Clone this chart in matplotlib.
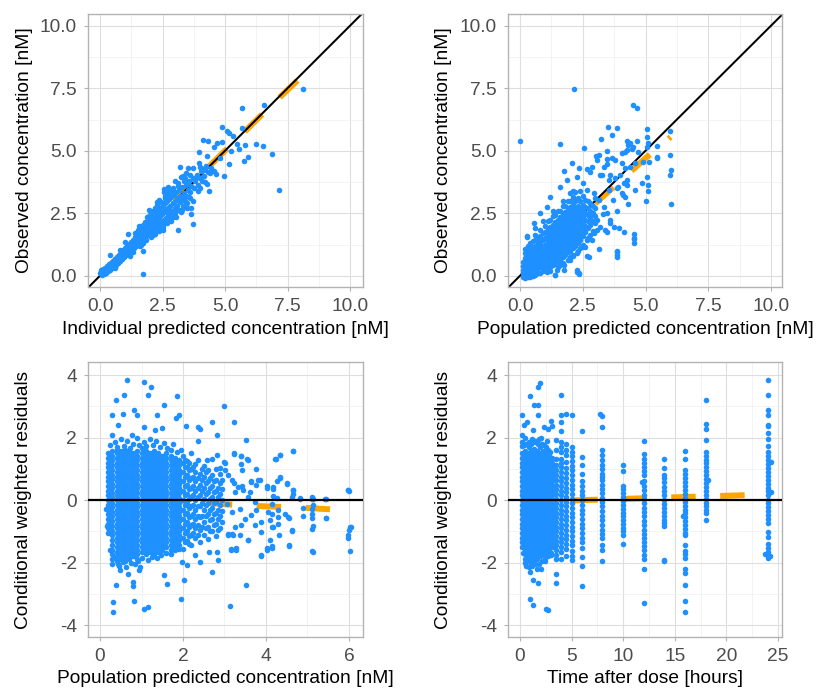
import matplotlib
matplotlib.use('Agg')
import matplotlib.pyplot as plt
from matplotlib.ticker import MultipleLocator, FormatStrFormatter

BLUE = '#1E90FF'
ORANGE = '#FFA500'

# ---------------- top left: observed vs individual predicted ----------------
ind_outliers = [
    (5.68, 6.73), (6.56, 6.85), (8.13, 7.49), (4.87, 5.96), (5.68, 5.93), (5.08, 5.80),
    (5.15, 5.72), (5.33, 5.59), (4.13, 5.45), (4.33, 5.40), (4.67, 5.33), (4.88, 5.37),
    (5.48, 5.29), (5.81, 5.25), (6.24, 5.27), (6.53, 5.20), (4.57, 5.16), (5.56, 5.07),
    (5.25, 5.00), (5.92, 4.75), (5.76, 4.60), (6.87, 4.87), (7.16, 3.45), (3.95, 4.96),
    (4.27, 4.79), (4.80, 4.72), (5.17, 4.49), (4.96, 4.00), (4.65, 4.07), (4.40, 4.12),
    (4.55, 4.20), (4.29, 3.68), (4.00, 3.53), (4.35, 3.40), (3.65, 2.73), (3.71, 2.07),
    (3.11, 1.83), (3.65, 2.49), (3.49, 2.92), (3.20, 4.36), (3.53, 4.33), (3.97, 4.53),
    (4.24, 4.41), (4.17, 4.25), (3.93, 3.96), (4.08, 3.80), (2.67, 3.43), (2.57, 3.49),
    (1.96, 2.65), (1.71, 1.00), (1.71, 0.07), (1.11, 1.69), (0.40, 0.83), (2.20, 1.69),
    (2.53, 1.83), (2.93, 2.36), (3.27, 2.63), (3.37, 3.03),
]
ind_band = [
    (0.00, 0.12), (0.03, 0.22), (0.06, 0.05), (0.08, 0.15), (0.12, 0.28), (0.14, 0.08),
    (0.17, 0.18), (0.20, 0.32), (0.22, 0.12), (0.25, 0.24), (0.28, 0.40), (0.30, 0.18),
    (0.33, 0.30), (0.36, 0.46), (0.38, 0.25), (0.41, 0.36), (0.44, 0.52), (0.46, 0.30),
    (0.48, 0.42), (0.52, 0.60), (0.54, 0.38), (0.56, 0.50), (0.60, 0.68), (0.62, 0.45),
    (0.64, 0.57), (0.68, 0.76), (0.70, 0.52), (0.72, 0.64), (0.76, 0.84), (0.78, 0.60),
    (0.80, 0.72), (0.84, 0.92), (0.86, 0.68), (0.88, 0.80), (0.92, 1.02), (0.94, 0.75),
    (0.96, 0.88), (1.00, 1.10), (1.02, 0.82), (1.04, 0.96), (1.08, 1.18), (1.10, 0.90),
    (1.12, 1.04), (1.16, 1.28), (1.18, 0.98), (1.20, 1.12), (1.24, 1.36), (1.26, 1.05),
    (1.28, 1.20), (1.32, 1.45), (1.34, 1.12), (1.36, 1.30), (1.40, 1.55), (1.42, 1.20),
    (1.44, 1.38), (1.48, 1.62), (1.50, 1.28), (1.52, 1.46), (1.56, 1.72), (1.58, 1.35),
    (1.60, 1.55), (1.64, 1.80), (1.66, 1.42), (1.68, 1.62), (1.72, 1.90), (1.74, 1.50),
    (1.76, 1.70), (1.80, 1.98), (1.82, 1.58), (1.84, 1.78), (1.88, 2.08), (1.90, 1.65),
    (1.92, 1.86), (1.96, 2.16), (1.98, 1.72), (2.00, 1.95), (2.04, 2.26), (2.06, 1.80),
    (2.08, 2.02), (2.12, 2.35), (2.14, 1.88), (2.16, 2.10), (2.20, 2.45), (2.22, 1.95),
    (2.24, 2.20), (2.28, 2.55), (2.30, 2.02), (2.32, 2.28), (2.36, 2.62), (2.38, 2.10),
    (2.40, 2.38), (2.44, 2.72), (2.46, 2.18), (2.48, 2.46), (2.52, 2.80), (2.54, 2.25),
    (2.56, 2.55), (2.60, 2.90), (2.62, 2.32), (2.64, 2.62), (2.68, 2.98), (2.70, 2.42),
    (2.72, 2.70), (2.76, 3.06), (2.78, 2.50), (2.80, 2.80), (2.85, 3.15), (2.88, 2.60),
    (2.90, 2.90), (2.95, 3.25), (2.98, 2.70), (3.00, 3.00), (3.05, 3.35), (3.08, 2.80),
    (3.10, 3.10), (3.15, 3.45), (3.20, 2.95), (3.22, 3.20), (3.28, 3.55), (3.32, 3.05),
    (3.35, 3.30), (3.42, 3.65), (3.45, 3.20), (3.50, 3.45), (3.55, 3.80), (3.60, 3.35),
    (3.65, 3.60), (3.70, 3.92), (3.75, 3.50), (3.80, 3.78), (3.88, 4.05), (3.92, 3.65),
    (4.00, 3.90), (4.05, 4.20), (4.15, 4.00), (4.20, 4.30), (4.30, 4.15), (4.45, 4.30),
    (1.00, 1.35), (1.20, 0.80), (1.50, 1.85), (1.70, 1.30), (1.90, 2.30), (2.10, 1.65),
    (2.30, 2.75), (2.50, 2.05), (2.60, 3.10), (2.80, 2.30), (2.90, 3.35), (3.00, 2.50),
    (3.10, 3.60), (3.30, 2.80), (3.40, 3.90), (3.60, 3.10), (2.20, 2.70), (2.40, 1.95),
    (1.40, 1.70), (1.60, 1.20), (0.80, 1.05), (0.60, 0.30), (3.70, 4.30), (3.90, 3.40),
    (4.00, 4.35), (4.20, 3.75), (3.30, 4.00), (2.75, 3.35), (2.00, 2.45), (1.30, 0.95),
]
# wider spread of the band between 1.5 and 3.8 nM
ind_spread = [
    (1.55, 2.00), (1.62, 1.25), (1.78, 2.15), (1.85, 1.45), (1.95, 2.40), (2.02, 1.55),
    (2.10, 2.55), (2.18, 1.70), (2.26, 2.85), (2.34, 1.80), (2.42, 2.95), (2.50, 1.95),
    (2.58, 3.20), (2.66, 2.10), (2.74, 3.25), (2.82, 2.20), (2.92, 3.50), (3.02, 2.35),
    (3.12, 3.70), (3.24, 2.55), (3.36, 3.80), (3.48, 2.70), (3.58, 4.05), (3.72, 3.00),
    (2.35, 3.05), (2.55, 3.35), (2.70, 3.55), (2.45, 2.05), (2.65, 2.25), (2.95, 2.55),
    (3.15, 2.65), (3.40, 3.00), (3.00, 3.80), (3.25, 3.95), (2.85, 3.40), (3.55, 3.15),
    (1.70, 2.05), (1.88, 2.35), (2.05, 2.60), (2.28, 2.95), (2.62, 3.35), (3.45, 4.10),
]
ind_smooth_x = [0.22, 1.0, 2.0, 3.0, 4.0, 5.0, 6.0, 7.0, 8.1]
ind_smooth_y = [0.25, 1.02, 2.03, 3.03, 4.02, 5.0, 5.98, 6.96, 8.0]

# ---------------- top right: observed vs population predicted ----------------
pop_outliers = [
    (0.00, 5.40), (2.16, 7.49), (4.49, 6.85), (4.65, 6.73), (3.49, 5.96), (3.85, 5.93),
    (3.65, 5.63), (3.24, 5.47), (1.58, 5.27), (2.56, 5.13), (2.06, 4.52), (1.75, 4.19),
    (5.06, 5.89), (5.98, 5.79), (5.06, 5.56), (5.44, 5.20), (5.11, 5.32), (4.25, 5.40),
    (4.38, 5.32), (4.67, 5.40), (4.52, 5.16), (4.08, 4.92), (4.28, 5.03), (5.44, 4.73),
    (5.99, 4.85), (6.02, 4.23), (5.98, 4.05), (6.02, 2.89), (5.07, 3.96), (5.11, 3.63),
    (5.11, 3.40), (5.02, 2.99), (4.86, 3.72), (4.60, 3.45), (4.28, 3.65), (4.29, 2.87),
    (3.88, 2.60), (4.12, 3.23), (4.54, 1.67), (4.54, 1.47), (3.88, 1.00), (3.88, 0.85),
    (3.15, 1.09), (2.68, 0.80), (2.26, 0.16), (2.35, 0.07), (1.41, 0.05), (1.74, 0.23),
    (0.27, 1.60), (0.27, 1.09), (2.12, 0.83), (3.59, 4.03), (3.65, 4.71), (3.45, 4.49),
    (3.15, 4.83), (3.25, 4.03), (2.86, 4.36), (2.66, 4.29), (3.39, 1.83), (3.59, 2.12),
    (3.05, 1.83), (2.86, 1.45), (3.32, 2.49), (3.72, 3.03), (3.92, 3.56),
    (4.29, 5.23), (3.46, 5.00), (3.04, 4.79), (3.07, 4.63), (3.33, 4.37), (3.46, 4.67),
    (3.80, 4.65), (4.19, 4.96), (4.46, 5.09), (4.72, 4.96), (5.05, 5.16), (4.06, 4.50),
    (4.19, 4.30), (4.39, 4.37), (4.59, 4.50), (4.92, 4.56), (5.12, 4.56), (5.46, 4.76),
    (3.99, 4.03), (3.80, 3.90), (3.53, 3.83), (4.13, 3.70), (4.26, 3.83), (3.86, 3.50),
    (4.06, 3.30), (4.19, 3.16), (3.53, 3.43), (3.20, 4.03), (2.80, 4.16), (2.34, 4.30),
    (2.27, 3.96), (1.87, 3.83), (1.61, 3.56), (1.21, 3.16), (1.08, 2.76), (0.81, 2.50),
    (0.54, 2.10), (0.28, 1.56), (0.21, 1.09), (2.67, 3.43), (2.93, 3.30), (3.13, 3.03),
    (3.33, 2.76), (3.46, 2.50), (3.60, 2.23), (3.73, 1.96), (3.46, 1.76), (3.20, 1.96),
    (3.07, 2.23), (2.93, 1.70), (2.67, 1.43), (2.47, 1.16), (2.27, 0.90), (2.00, 0.63),
    (1.74, 0.43), (1.47, 0.23), (1.08, 0.16), (1.41, 0.03), (2.60, 1.16), (2.73, 0.76),
    (3.93, 1.90), (4.13, 1.76), (4.53, 1.50), (4.53, 1.30), (3.86, 0.96), (3.86, 0.76),
    (2.27, 0.23), (2.34, 0.10),
    # lower and upper edge of the dense cloud
    (1.20, 0.20), (1.50, 0.35), (1.70, 0.50), (1.90, 0.65), (2.10, 0.80), (2.30, 1.00),
    (2.50, 1.25), (2.70, 1.50), (2.90, 1.80), (3.00, 2.10), (1.60, 0.45), (2.00, 0.75),
    (2.40, 1.10), (2.80, 1.65), (0.60, 1.90), (0.90, 2.20), (1.30, 2.60), (1.70, 3.00),
    (2.10, 3.40), (2.50, 3.70),
]
pop_core_x = [0.1, 0.2, 0.3, 0.4, 0.5, 0.6, 0.7, 0.8, 0.9, 1.0, 1.1, 1.2, 1.3, 1.4,
              1.5, 1.6, 1.7, 1.8, 1.9, 2.0, 2.1, 2.2, 2.3, 2.4, 2.5, 2.6, 2.7, 2.8,
              2.9, 3.0]
pop_core_y = [
    [-0.05, 0.1, 0.25, 0.4, 0.55],
    [-0.08, 0.05, 0.2, 0.35, 0.5, 0.7, 0.9],
    [-0.05, 0.1, 0.25, 0.45, 0.6, 0.8, 1.0, 1.2],
    [-0.03, 0.15, 0.3, 0.5, 0.7, 0.85, 1.05, 1.3],
    [0.0, 0.2, 0.35, 0.55, 0.75, 0.95, 1.15, 1.4],
    [0.05, 0.25, 0.45, 0.6, 0.8, 1.0, 1.2, 1.45, 1.65],
    [0.1, 0.3, 0.5, 0.7, 0.9, 1.1, 1.3, 1.5],
    [0.12, 0.35, 0.55, 0.75, 0.95, 1.15, 1.35, 1.6, 1.85],
    [0.2, 0.4, 0.6, 0.8, 1.0, 1.2, 1.45, 1.7],
    [0.25, 0.45, 0.65, 0.85, 1.05, 1.25, 1.5, 1.75, 2.0],
    [0.3, 0.5, 0.7, 0.95, 1.15, 1.35, 1.6, 1.85, 2.2],
    [0.35, 0.6, 0.8, 1.0, 1.2, 1.45, 1.7, 1.95, 2.25],
    [0.45, 0.65, 0.9, 1.1, 1.3, 1.55, 1.8, 2.05, 2.4],
    [0.5, 0.75, 0.95, 1.2, 1.4, 1.65, 1.9, 2.15, 2.45],
    [0.6, 0.8, 1.05, 1.25, 1.5, 1.75, 2.0, 2.25, 2.6],
    [0.65, 0.9, 1.1, 1.35, 1.6, 1.85, 2.1, 2.35, 2.6],
    [0.75, 1.0, 1.2, 1.45, 1.7, 1.95, 2.2, 2.45, 2.8],
    [0.85, 1.05, 1.3, 1.55, 1.8, 2.05, 2.3, 2.55, 2.8],
    [0.95, 1.15, 1.4, 1.65, 1.9, 2.15, 2.4, 2.65, 3.0],
    [1.0, 1.25, 1.5, 1.75, 2.0, 2.25, 2.5, 2.75, 3.0, 3.3],
    [1.1, 1.35, 1.6, 1.85, 2.1, 2.35, 2.6, 2.85, 3.15],
    [1.2, 1.45, 1.7, 1.95, 2.2, 2.45, 2.7, 3.0, 3.35],
    [1.3, 1.55, 1.8, 2.05, 2.3, 2.55, 2.8, 3.1],
    [1.45, 1.7, 1.95, 2.2, 2.45, 2.7, 3.0, 3.4],
    [1.6, 1.85, 2.1, 2.35, 2.6, 2.85, 3.2],
    [1.75, 2.0, 2.25, 2.5, 2.75, 3.05],
    [1.9, 2.2, 2.45, 2.7, 3.0],
    [2.05, 2.35, 2.6, 2.9],
    [2.2, 2.5, 2.8],
    [2.4, 2.7, 3.1],
]
pop_smooth_x = [0.08, 0.5, 1.0, 1.5, 2.0, 2.5, 3.0, 3.5, 4.0, 4.5, 5.0, 5.5, 6.0]
pop_smooth_y = [0.28, 0.62, 1.05, 1.5, 1.95, 2.42, 2.9, 3.35, 3.8, 4.25, 4.7, 5.12, 5.55]

# ---------------- bottom left: CWRES vs population predicted ----------------
cw_outliers = [
    (0.66, 3.86), (1.07, 3.77), (1.22, 3.61), (1.16, 3.38), (0.39, 3.22), (0.57, 3.36),
    (1.85, 3.33), (1.55, 3.04), (3.00, 3.02), (0.81, 2.90), (0.30, 2.74), (0.55, 2.77),
    (0.88, 2.74), (1.37, 2.72), (1.90, 2.72), (1.82, 2.63), (0.44, 2.40), (1.06, 2.35),
    (1.33, 2.24), (1.49, 2.31), (2.07, 2.37), (2.37, 2.35), (2.41, 2.29), (2.70, 2.49),
    (3.23, 2.51), (2.83, 2.10), (0.76, 2.10), (0.30, 2.10), (2.35, 1.89), (3.51, 1.91),
    (4.66, 1.57), (4.34, 1.46), (4.24, 1.31), (3.23, 1.49), (3.41, 1.41), (3.55, 1.31),
    (2.69, 1.33), (2.81, 1.44), (2.57, 1.27), (3.00, 1.21), (2.89, 1.03), (3.75, 0.99),
    (3.86, 0.66), (3.64, 0.61), (4.02, 0.46), (4.26, 0.61), (4.34, 0.71), (4.50, 0.53),
    (4.18, 0.37), (4.66, 0.34), (4.65, 0.19), (4.82, 0.05), (5.14, 0.03), (5.10, 0.05),
    (5.46, 0.03), (5.99, 0.34), (6.01, 0.30), (4.90, -0.25), (4.90, -0.50), (5.10, -0.27),
    (5.10, -0.43), (5.12, -0.57), (5.12, -0.91), (5.14, -0.83), (5.44, -0.57), (6.00, -0.96),
    (6.02, -0.85), (5.98, -1.12), (5.98, -1.21), (6.02, -1.63), (5.12, -1.62), (4.54, -0.53),
    (4.62, -0.99), (4.56, -1.44), (4.32, -1.10), (4.14, -0.85), (4.10, -1.26), (4.02, -1.53),
    (4.14, -1.47), (3.88, -1.74), (3.56, -1.28), (3.51, -2.72), (3.13, -3.38), (2.71, -2.31),
    (2.63, -1.67), (2.85, -1.92), (2.82, -1.67), (3.15, -1.55), (3.29, -1.53), (3.08, -1.10),
    (3.17, -1.07), (2.03, -2.56), (1.95, -3.17), (1.61, -2.67), (1.55, -2.38), (1.07, -3.47),
    (1.15, -3.41), (0.81, -3.23), (0.80, -2.63), (0.80, -2.74), (0.68, -2.35), (0.47, -2.22),
    (0.39, -2.70), (0.32, -3.27), (0.31, -3.59), (0.35, -1.85), (0.43, -2.03), (0.96, -2.13),
    (0.95, -2.22), (1.97, -1.97), (2.09, -2.08), (2.40, -1.97), (2.28, -1.76), (0.18, -0.83),
    (0.14, -0.27),
    (3.23, 1.50), (3.41, 1.41), (3.56, 1.30), (3.41, 1.16), (3.43, 0.98), (3.01, 1.19),
    (3.01, 0.95), (3.09, 0.79), (3.17, 0.63), (3.24, 0.55), (3.33, 0.42), (3.43, 0.45),
    (3.45, 0.31), (3.25, 0.26), (3.61, 0.26), (3.65, 0.58), (3.81, 0.63), (3.77, 0.47),
    (3.57, 0.10), (3.73, -0.06), (3.37, -0.27), (3.17, -0.38), (3.05, -0.11), (3.65, -0.49),
    (3.77, -0.33), (3.49, -0.60), (3.41, -0.81), (3.25, -0.86), (3.09, -1.07), (3.21, -1.13),
    (3.37, -1.13), (3.57, -1.29), (3.88, -1.03), (3.88, -0.70), (3.73, -0.81), (3.15, -1.60),
    (3.29, -1.58), (3.87, -1.78), (4.02, -1.58), (4.14, -1.52), (4.56, -1.47), (5.13, -1.65),
    (4.04, -0.38), (4.14, -0.11), (4.14, -0.44), (4.30, -0.33), (4.28, -0.55), (4.28, -0.76),
    (4.18, -0.86), (4.10, -0.65), (4.46, -0.44), (4.55, -0.57), (4.62, -0.97), (4.62, 0.10),
    (4.65, 0.31), (4.50, 0.55), (4.34, 0.73), (4.23, 1.32), (4.34, 1.46), (4.66, 1.56),
    (4.18, 0.41), (4.02, 0.39), (4.18, 0.12), (4.26, 0.07), (4.82, 0.07), (5.10, 0.10),
    (5.14, -0.17), (5.42, 0.04), (5.44, -0.57), (5.98, 0.34), (6.04, -0.85),
    # ragged upper and lower edge of the dense cloud
    (0.25, 1.75), (0.35, 1.85), (0.42, 1.70), (0.50, 1.95), (0.58, 1.72), (0.65, 1.88),
    (0.72, 1.68), (0.80, 1.80), (0.88, 2.00), (0.95, 1.75), (1.05, 1.85), (1.12, 1.72),
    (1.20, 1.95), (1.28, 1.78), (1.35, 1.90), (1.45, 1.70), (1.55, 1.82), (1.62, 1.68),
    (1.75, 1.80), (1.85, 1.55), (1.95, 1.62), (0.25, -1.60), (0.30, -2.05), (0.45, -2.10),
    (0.55, -1.98), (0.62, -2.15), (0.75, -2.00), (0.85, -2.05), (0.92, -1.95), (1.02, -1.85),
    (1.15, -1.90), (1.25, -1.82), (1.38, -1.85), (1.48, -1.75), (1.58, -1.70), (1.70, -1.72),
    (1.80, -1.60), (1.90, -1.55),
]
cw_core_x = [0.2, 0.3, 0.4, 0.5, 0.6, 0.7, 0.8, 0.9, 1.0, 1.1, 1.2, 1.3, 1.4, 1.5, 1.6,
             1.7, 1.8, 1.9]
cw_core_y = [
    [-1.05, -0.9, -0.75, -0.6, -0.45, -0.3, -0.15, 0.0, 0.15, 0.3, 0.45, 0.6, 0.75, 0.9,
     1.05, 1.2, 1.35, 1.5],
    [-1.88, -1.72, -1.58, -1.42, -1.28, -1.12, -0.98, -0.82, -0.68, -0.52, -0.38, -0.22,
     -0.08, 0.08, 0.22, 0.38, 0.52, 0.68, 0.82, 0.98, 1.12, 1.28, 1.42, 1.58],
    [-1.95, -1.8, -1.65, -1.5, -1.35, -1.2, -1.05, -0.9, -0.75, -0.6, -0.45, -0.3, -0.15,
     0.0, 0.15, 0.3, 0.45, 0.6, 0.75, 0.9, 1.05, 1.2, 1.35, 1.5, 1.62],
    [-1.88, -1.72, -1.58, -1.42, -1.28, -1.12, -0.98, -0.82, -0.68, -0.52, -0.38, -0.22,
     -0.08, 0.08, 0.22, 0.38, 0.52, 0.68, 0.82, 0.98, 1.12, 1.28, 1.42, 1.58],
    [-1.95, -1.8, -1.65, -1.5, -1.35, -1.2, -1.05, -0.9, -0.75, -0.6, -0.45, -0.3, -0.15,
     0.0, 0.15, 0.3, 0.45, 0.6, 0.75, 0.9, 1.05, 1.2, 1.35, 1.5, 1.62],
    [-1.88, -1.72, -1.58, -1.42, -1.28, -1.12, -0.98, -0.82, -0.68, -0.52, -0.38, -0.22,
     -0.08, 0.08, 0.22, 0.38, 0.52, 0.68, 0.82, 0.98, 1.12, 1.28, 1.42, 1.58],
    [-1.8, -1.65, -1.5, -1.35, -1.2, -1.05, -0.9, -0.75, -0.6, -0.45, -0.3, -0.15,
     0.0, 0.15, 0.3, 0.45, 0.6, 0.75, 0.9, 1.05, 1.2, 1.35, 1.5],
    [-1.88, -1.72, -1.58, -1.42, -1.28, -1.12, -0.98, -0.82, -0.68, -0.52, -0.38, -0.22,
     -0.08, 0.08, 0.22, 0.38, 0.52, 0.68, 0.82, 0.98, 1.12, 1.28, 1.42, 1.58],
    [-1.65, -1.5, -1.35, -1.2, -1.05, -0.9, -0.75, -0.6, -0.45, -0.3, -0.15,
     0.0, 0.15, 0.3, 0.45, 0.6, 0.75, 0.9, 1.05, 1.2, 1.35, 1.5, 1.68],
    [-1.72, -1.58, -1.42, -1.28, -1.12, -0.98, -0.82, -0.68, -0.52, -0.38, -0.22,
     -0.08, 0.08, 0.22, 0.38, 0.52, 0.68, 0.82, 0.98, 1.12, 1.28, 1.42, 1.58],
    [-1.65, -1.5, -1.35, -1.2, -1.05, -0.9, -0.75, -0.6, -0.45, -0.3, -0.15,
     0.0, 0.15, 0.3, 0.45, 0.6, 0.75, 0.9, 1.05, 1.2, 1.35, 1.5],
    [-1.72, -1.58, -1.42, -1.28, -1.12, -0.98, -0.82, -0.68, -0.52, -0.38, -0.22,
     -0.08, 0.08, 0.22, 0.38, 0.52, 0.68, 0.82, 0.98, 1.12, 1.28, 1.42, 1.58],
    [-1.65, -1.5, -1.35, -1.2, -1.05, -0.9, -0.75, -0.6, -0.45, -0.3, -0.15,
     0.0, 0.15, 0.3, 0.45, 0.6, 0.75, 0.9, 1.05, 1.2, 1.35, 1.5],
    [-1.58, -1.42, -1.28, -1.12, -0.98, -0.82, -0.68, -0.52, -0.38, -0.22,
     -0.08, 0.08, 0.22, 0.38, 0.52, 0.68, 0.82, 0.98, 1.12, 1.28, 1.42],
    [-1.5, -1.35, -1.2, -1.05, -0.9, -0.75, -0.6, -0.45, -0.3, -0.15,
     0.0, 0.15, 0.3, 0.45, 0.6, 0.75, 0.9, 1.05, 1.2, 1.35, 1.5],
    [-1.58, -1.42, -1.28, -1.12, -0.98, -0.82, -0.68, -0.52, -0.38, -0.22,
     -0.08, 0.08, 0.22, 0.38, 0.52, 0.68, 0.82, 0.98, 1.12, 1.28, 1.42, 1.62],
    [-1.5, -1.35, -1.2, -1.05, -0.9, -0.75, -0.6, -0.45, -0.3, -0.15,
     0.0, 0.15, 0.3, 0.45, 0.6, 0.75, 0.9, 1.05, 1.2, 1.35],
    [-1.42, -1.28, -1.12, -0.98, -0.82, -0.68, -0.52, -0.38, -0.22,
     -0.08, 0.08, 0.22, 0.38, 0.52, 0.68, 0.82, 0.98, 1.12, 1.28],
]
cw_mid_x = [2.0, 2.05, 2.1, 2.15, 2.2, 2.25, 2.3, 2.35, 2.4, 2.45, 2.5, 2.55, 2.6,
            2.65, 2.7, 2.75, 2.8, 2.85, 2.9, 2.95]
cw_mid_y = [
    [-1.55, -1.2, -0.9, -0.6, -0.3, 0.0, 0.3, 0.6, 0.9, 1.2, 1.4],
    [-1.35, -1.05, -0.75, -0.45, -0.15, 0.15, 0.45, 0.75, 1.05, 1.3],
    [-1.3, -1.0, -0.7, -0.4, -0.1, 0.2, 0.5, 0.8, 1.05, 1.25],
    [-1.4, -1.15, -0.85, -0.55, -0.25, 0.05, 0.35, 0.65, 0.95, 1.2],
    [-1.45, -1.1, -0.8, -0.5, -0.2, 0.1, 0.4, 0.7, 1.0, 1.5],
    [-1.05, -0.75, -0.45, -0.15, 0.15, 0.45, 0.75, 1.05],
    [-1.2, -0.9, -0.6, -0.3, 0.0, 0.3, 0.6, 0.9, 1.15],
    [-1.1, -0.8, -0.5, -0.2, 0.1, 0.4, 0.7, 1.3],
    [-1.35, -0.95, -0.55, -0.2, 0.15, 0.5, 0.85],
    [-0.85, -0.5, -0.1, 0.3, 0.65, 1.0],
    [-1.1, -0.7, -0.3, 0.05, 0.4, 0.75, 1.1],
    [-0.9, -0.5, -0.15, 0.2, 0.55, 0.9],
    [-1.25, -0.85, -0.45, -0.1, 0.25, 0.6, 0.95],
    [-1.0, -0.65, -0.3, 0.05, 0.4, 0.7],
    [-1.0, -0.6, -0.25, 0.1, 0.45, 0.8],
    [-0.8, -0.45, -0.1, 0.25, 0.6],
    [-1.15, -0.75, -0.4, -0.05, 0.3, 0.65, 1.0],
    [-0.95, -0.6, -0.3, 0.1, 0.4],
    [-0.9, -0.5, -0.15, 0.2, 0.55, 0.85],
    [-0.7, -0.35, 0.0, 0.35, 0.65],
]
cw_smooth_x = [0.24, 0.5, 1.0, 1.5, 2.0, 2.5, 3.0, 3.5, 4.0, 4.5, 5.0, 5.5, 6.03]
cw_smooth_y = [0.07, 0.05, 0.02, 0.0, -0.03, -0.08, -0.13, -0.17, -0.2, -0.22, -0.25, -0.29, -0.33]

# ---------------- bottom right: CWRES vs time after dose ----------------
tad_early_x = [0.15, 0.45, 0.75, 1.05, 1.35, 1.65, 1.95, 2.25, 2.55, 2.85, 3.15]
tad_early_y = [
    [-1.5, -1.35, -1.2, -1.05, -0.9, -0.75, -0.6, -0.45, -0.3, -0.15, 0.0, 0.15, 0.3,
     0.45, 0.6, 0.75, 0.9, 1.05, 1.2, 1.35, 1.5, 1.72, 2.1],
    [-2.0, -1.88, -1.72, -1.58, -1.42, -1.28, -1.12, -0.98, -0.82, -0.68, -0.52, -0.38,
     -0.22, -0.08, 0.08, 0.22, 0.38, 0.52, 0.68, 0.82, 0.98, 1.12, 1.28, 1.42, 1.58],
    [-1.95, -1.8, -1.65, -1.5, -1.35, -1.2, -1.05, -0.9, -0.75, -0.6, -0.45, -0.3, -0.15,
     0.0, 0.15, 0.3, 0.45, 0.6, 0.75, 0.9, 1.05, 1.2, 1.35, 1.5],
    [-2.0, -1.88, -1.72, -1.58, -1.42, -1.28, -1.12, -0.98, -0.82, -0.68, -0.52, -0.38,
     -0.22, -0.08, 0.08, 0.22, 0.38, 0.52, 0.68, 0.82, 0.98, 1.12, 1.28, 1.42, 1.58],
    [-1.95, -1.8, -1.65, -1.5, -1.35, -1.2, -1.05, -0.9, -0.75, -0.6, -0.45, -0.3, -0.15,
     0.0, 0.15, 0.3, 0.45, 0.6, 0.75, 0.9, 1.05, 1.2, 1.35, 1.5, 1.65],
    [-2.2, -1.88, -1.72, -1.58, -1.42, -1.28, -1.12, -0.98, -0.82, -0.68, -0.52, -0.38,
     -0.22, -0.08, 0.08, 0.22, 0.38, 0.52, 0.68, 0.82, 0.98, 1.12, 1.28, 1.42, 1.58],
    [-1.8, -1.65, -1.5, -1.35, -1.2, -1.05, -0.9, -0.75, -0.6, -0.45, -0.3, -0.15,
     0.0, 0.15, 0.3, 0.45, 0.6, 0.75, 0.9, 1.05, 1.2, 1.35, 1.5, 1.7],
    [-1.72, -1.58, -1.42, -1.28, -1.12, -0.98, -0.82, -0.68, -0.52, -0.38,
     -0.22, -0.08, 0.08, 0.22, 0.38, 0.52, 0.68, 0.82, 0.98, 1.12, 1.28, 1.42, 1.58],
    [-1.65, -1.5, -1.35, -1.2, -1.05, -0.9, -0.75, -0.6, -0.45, -0.3, -0.15,
     0.0, 0.15, 0.3, 0.45, 0.6, 0.75, 0.9, 1.05, 1.2, 1.35, 1.5],
    [-1.58, -1.42, -1.28, -1.12, -0.98, -0.82, -0.68, -0.52, -0.38,
     -0.22, -0.08, 0.08, 0.22, 0.38, 0.52, 0.68, 0.82, 0.98, 1.12, 1.28, 1.42],
    [-1.5, -1.35, -1.2, -1.05, -0.9, -0.75, -0.6, -0.45, -0.3, -0.15,
     0.0, 0.15, 0.3, 0.45, 0.6, 0.75, 0.9, 1.05, 1.2, 1.35],
]
tad_outliers = [
    (1.97, 3.75), (1.74, 3.62), (0.97, 3.32), (1.36, 3.03), (1.74, 3.03), (0.23, 2.71),
    (0.36, 2.39), (0.71, 2.50), (1.23, 2.25), (1.74, 2.71), (2.33, 2.33), (2.71, 2.28),
    (2.97, 2.52), (3.10, 2.37), (0.97, -2.30), (1.26, -2.57), (1.74, -2.65), (0.97, -3.16),
    (1.26, -3.37), (2.49, -3.47), (2.71, -3.53), (2.07, -2.20), (3.04, -1.77), (0.50, 2.00),
    (2.00, 2.00), (2.60, 1.90), (1.50, 1.90), (0.90, 1.85), (2.40, -1.95), (1.40, -2.00),
    (7.78, 2.77), (11.8, 0.57), (15.8, -0.50), (18.2, 0.64), (24.3, 1.22), (24.3, 0.26),
    (23.8, -1.72), (24.2, -1.78),
    # ragged upper and lower edge of the early dense block
    (0.20, 1.85), (0.35, 1.75), (0.60, 1.80), (0.85, 1.70), (1.10, 1.80), (1.20, 1.95),
    (1.45, 1.85), (1.70, 1.80), (1.85, 1.95), (2.10, 1.80), (2.35, 1.75), (2.50, 1.70),
    (2.70, 1.62), (2.95, 1.55), (0.30, -1.70), (0.60, -2.10), (0.90, -2.15), (1.20, -2.10),
    (1.50, -2.05), (1.80, -2.05), (2.10, -1.95), (2.40, -1.85), (2.70, -1.80), (3.00, -1.70),
]
tad_cols_x = [3.5, 4.0, 4.5, 5.0, 6.0, 8.0, 10.0, 12.0, 14.0, 16.0, 18.0, 24.0]
tad_cols_y = [
    [1.91, 1.62, 1.33, 1.12, 0.95, 0.8, 0.65, 0.5, 0.35, 0.2, 0.05, -0.1, -0.25, -0.4, -0.55,
     -0.7, -0.85, -1.0, -1.15, -1.3, -1.45, -1.6, -1.75, -1.88, -2.36, -2.64],
    [3.38, 2.71, 2.5, 2.2, 1.86, 1.7, 1.54, 1.33, 1.2, 1.05, 0.9, 0.75, 0.6, 0.45, 0.3, 0.15,
     0.0, -0.15, -0.3, -0.45, -0.6, -0.75, -0.9, -1.05, -1.2, -1.35, -1.5, -1.65, -1.87],
    [2.77, 1.8, 1.59, 1.43, 1.22, 1.02, 0.86, 0.7, 0.55, 0.4, 0.25, 0.1, -0.05, -0.2, -0.35,
     -0.5, -0.65, -0.8, -0.95, -1.1, -1.25, -1.4, -1.55, -1.78],
    [2.72, 1.7, 1.55, 1.4, 1.25, 1.1, 0.95, 0.8, 0.65, 0.5, 0.35, 0.2, 0.05, -0.1, -0.25, -0.4,
     -0.55, -0.7, -0.85, -1.0, -1.15, -1.3, -1.45, -1.62, -1.78, -1.92],
    [2.2, 1.39, 1.12, 0.85, 0.6, 0.45, 0.3, 0.15, 0.0, -0.15, -0.3, -0.45, -0.6, -0.75, -0.9,
     -1.05, -1.2, -1.35, -1.53, -1.83, -2.11, -2.74],
    [2.7, 2.33, 1.6, 1.44, 1.28, 1.12, 1.0, 0.85, 0.74, 0.63, 0.5, 0.36, 0.22, 0.08, -0.06,
     -0.2, -0.35, -0.5, -0.65, -0.8, -0.95, -1.07, -1.2, -1.45, -1.6, -1.95],
    [1.14, 0.92, 0.45, 0.36, 0.22, 0.1, -0.02, -0.15, -0.28, -0.4, -0.52, -0.64, -0.76, -0.88,
     -1.0, -1.12, -1.39],
    [1.88, 1.48, 1.32, 1.2, 1.06, 0.93, 0.79, 0.62, 0.46, 0.32, 0.18, 0.04, -0.1, -0.24, -0.38,
     -0.52, -0.66, -0.8, -0.94, -1.08, -1.2, -1.34, -1.47, -1.58, -1.77, -1.88, -2.2, -3.29],
    [1.32, 1.04, 0.8, 0.7, 0.58, 0.42, 0.28, 0.15, 0.0, -0.12, -0.25, -0.38, -0.5, -0.62, -0.74,
     -0.84, -1.9, -1.96],
    [1.57, 1.32, 0.95, 0.84, 0.7, 0.58, 0.45, 0.32, 0.2, 0.08, -0.05, -0.18, -0.3, -0.42, -0.55,
     -0.68, -0.8, -0.92, -1.05, -1.12, -1.45, -1.62, -1.72, -1.85, -2.2, -2.33, -2.7, -3.22, -3.59],
    [3.22, 2.44, 2.28, 1.92, 1.55, 1.42, 1.3, 1.18, 1.05, 0.92, 0.8, 0.68, 0.55, 0.42, 0.3,
     0.18, 0.05, -0.08, -0.2, -0.32, -0.42, -0.64],
    [3.86, 3.37, 2.9, 2.73, 2.42, 2.36, 2.14, 1.96, 1.72, 1.55, 1.4, 1.28, 1.15, 1.02, 0.9,
     0.78, 0.65, 0.52, 0.4, 0.28, 0.15, 0.02, -0.1, -0.22, -0.35, -0.48, -0.6, -0.72, -1.02,
     -1.18, -1.4, -1.52, -1.65, -1.74, -1.84],
]
tad_smooth_x = [0.43, 2.0, 4.0, 6.0, 8.0, 10.0, 12.0, 14.0, 16.0, 18.0, 20.0, 22.0, 24.2]
tad_smooth_y = [-0.08, -0.06, -0.03, 0.0, 0.02, 0.04, 0.06, 0.08, 0.1, 0.12, 0.14, 0.16, 0.17]


def unpack_pairs(*lists):
    xs, ys = [], []
    for pairs in lists:
        for x, y in pairs:
            xs.append(x)
            ys.append(y)
    return xs, ys


def unpack_columns(col_x, col_y):
    xs, ys = [], []
    for x, vals in zip(col_x, col_y):
        xs.extend([x] * len(vals))
        ys.extend(vals)
    return xs, ys


def style_axes(ax, xlim, ylim, xstep, ystep, fmt):
    ax.set_xlim(*xlim)
    ax.set_ylim(*ylim)
    ax.xaxis.set_major_locator(MultipleLocator(xstep))
    ax.yaxis.set_major_locator(MultipleLocator(ystep))
    ax.xaxis.set_minor_locator(MultipleLocator(xstep / 2))
    ax.yaxis.set_minor_locator(MultipleLocator(ystep / 2))
    ax.xaxis.set_major_formatter(FormatStrFormatter(fmt))
    ax.yaxis.set_major_formatter(FormatStrFormatter(fmt))
    ax.grid(which='major', color='#DEDEDE', linewidth=0.8, zorder=0)
    ax.grid(which='minor', color='#EEEEEE', linewidth=0.5, zorder=0)
    ax.set_axisbelow(True)
    for sp in ax.spines.values():
        sp.set_color('#B3B3B3')
        sp.set_linewidth(1.0)
    ax.tick_params(which='major', length=2.75, width=0.8, color='#B3B3B3',
                   labelsize=13.8, labelcolor='#4D4D4D', pad=5.2)
    ax.tick_params(which='minor', length=0)


def smooth(ax, x, y):
    ax.plot(x, y, color=ORANGE, linewidth=4.3, linestyle=(0, (4.1, 4.1)),
            dash_capstyle='butt', solid_capstyle='butt', zorder=2)


def labels(ax, xlabel, ylabel, xpos, ypos):
    ax.set_xlabel(xlabel, fontsize=13.8, va='center')
    ax.set_ylabel(ylabel, fontsize=13.8, va='center')
    ax.xaxis.set_label_coords(0.5, ypos)
    ax.yaxis.set_label_coords(xpos, 0.5)


def main():
    plt.rcParams['font.family'] = ['Liberation Sans', 'DejaVu Sans']
    plt.rcParams['axes.unicode_minus'] = False

    fig = plt.figure(figsize=(8.17, 6.90), dpi=100)
    W, H = 817, 690
    ax1 = fig.add_axes([88 / W, 1 - 287 / H, 275 / W, 273 / H])
    ax2 = fig.add_axes([508 / W, 1 - 287 / H, 274 / W, 273 / H])
    ax3 = fig.add_axes([88 / W, 1 - 637 / H, 275 / W, 275 / H])
    ax4 = fig.add_axes([508 / W, 1 - 637 / H, 274 / W, 275 / H])

    # top left
    x, y = unpack_pairs(ind_band, ind_spread, ind_outliers)
    smooth(ax1, ind_smooth_x, ind_smooth_y)
    ax1.axline((0, 0), slope=1, color='black', linewidth=1.45, zorder=2.5)
    ax1.scatter(x, y, s=16, color=BLUE, linewidths=0, zorder=3)
    style_axes(ax1, (-0.48, 10.52), (-0.45, 10.47), 2.5, 2.5, '%.1f')
    labels(ax1, 'Individual predicted concentration [nM]', 'Observed concentration [nM]',
           -0.2316, -0.1575)

    # top right
    cx, cy = unpack_columns(pop_core_x, pop_core_y)
    ox, oy = unpack_pairs(pop_outliers)
    smooth(ax2, pop_smooth_x, pop_smooth_y)
    ax2.axline((0, 0), slope=1, color='black', linewidth=1.45, zorder=2.5)
    ax2.scatter(cx + ox, cy + oy, s=16, color=BLUE, linewidths=0, zorder=3)
    style_axes(ax2, (-0.48, 10.44), (-0.45, 10.47), 2.5, 2.5, '%.1f')
    labels(ax2, 'Population predicted concentration [nM]', 'Observed concentration [nM]',
           -0.2336, -0.1575)

    # bottom left
    cx, cy = unpack_columns(cw_core_x, cw_core_y)
    mx, my = unpack_columns(cw_mid_x, cw_mid_y)
    ox, oy = unpack_pairs(cw_outliers)
    smooth(ax3, cw_smooth_x, cw_smooth_y)
    ax3.scatter(cx + mx + ox, cy + my + oy, s=16, color=BLUE, linewidths=0, zorder=3)
    ax3.axhline(0, color='black', linewidth=1.6, zorder=4)
    style_axes(ax3, (-0.29, 6.34), (-4.38, 4.42), 2, 2, '%d')
    labels(ax3, 'Population predicted concentration [nM]', 'Conditional weighted residuals',
           -0.234, -0.150)

    # bottom right
    ex, ey = unpack_columns(tad_early_x, tad_early_y)
    kx, ky = unpack_columns(tad_cols_x, tad_cols_y)
    ox, oy = unpack_pairs(tad_outliers)
    smooth(ax4, tad_smooth_x, tad_smooth_y)
    ax4.scatter(ex + kx + ox, ey + ky + oy, s=16, color=BLUE, linewidths=0, zorder=3)
    ax4.axhline(0, color='black', linewidth=1.6, zorder=4)
    style_axes(ax4, (-1.16, 25.4), (-4.38, 4.42), 5, 2, '%d')
    labels(ax4, 'Time after dose [hours]', 'Conditional weighted residuals',
           -0.2336, -0.150)

    fig.savefig('out.png', dpi=100)


if __name__ == '__main__':
    main()
